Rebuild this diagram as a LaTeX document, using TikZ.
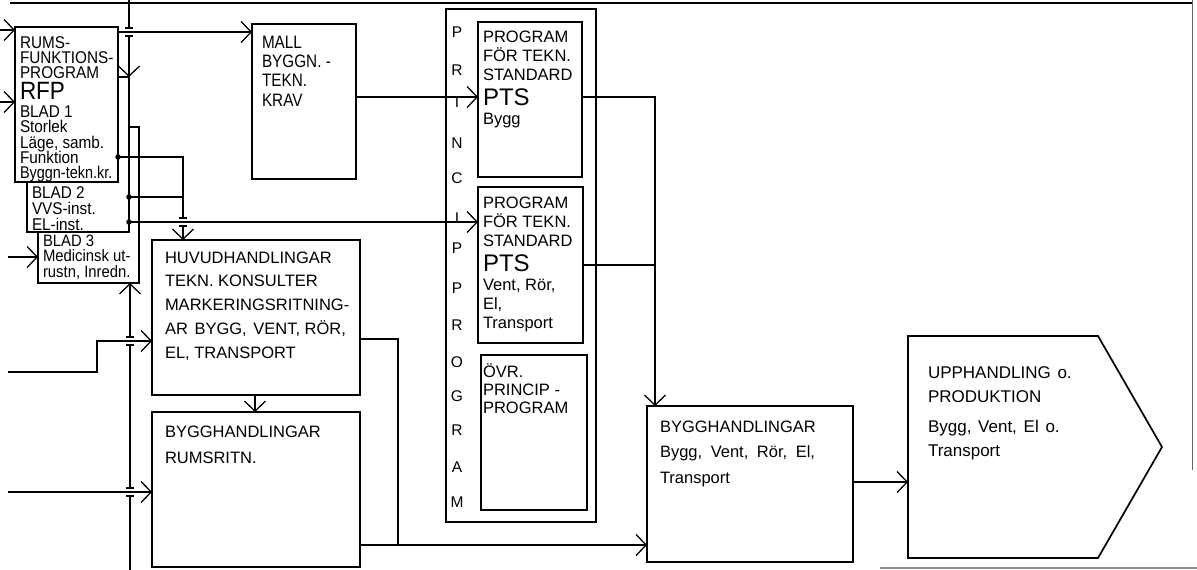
\documentclass[tikz,border=0pt]{standalone}
\usepackage{fontspec}
\setmainfont{Liberation Sans}
\newfontfamily\fA{Liberation Sans}
\newfontfamily\fN[FakeStretch=0.9]{Liberation Sans}
\newfontfamily\fM[FakeStretch=0.85]{Liberation Sans}
\usetikzlibrary{arrows.meta}
\newcommand{\fz}[1]{\fontsize{#1}{#1}\selectfont}
\newcommand{\vlines}[2]{\vtop{\baselineskip=#1\lineskiplimit=-\maxdimen\lineskip=0pt\relax #2}}
\begin{document}
\begin{tikzpicture}[x=1pt,y=-1pt,
  box/.style={draw, line width=1.7pt, fill=white, inner sep=0pt, outer sep=0pt, anchor=north west},
  frameline/.style={line width=1.7pt},
  txt/.style={inner sep=0pt, outer sep=0pt, anchor=base west},
  conn/.style={line width=1.3pt},
  arr/.style={conn,-{Straight Barb[length=10pt,width=21pt]}},
  dot/.style={circle, fill=black, inner sep=0pt, minimum size=5.5pt}]
\useasboundingbox[fill=white] (0,0) rectangle (1197,570);

% scan frame
\draw[line width=1.3pt] (10,3) -- (1192,3);
\draw[line width=1pt, black!60] (1192,0) -- (1192,470);
\draw[line width=1.2pt, black!45] (880,568) -- (1197,568);

% RFP sheets
\node[box, minimum width=101pt, minimum height=156pt] (p3) at (38,127) {};
\node[box, minimum width=102pt, minimum height=155pt] (p2) at (27,77) {};
\node[box, minimum width=103pt, minimum height=155pt] (p1) at (15,27) {};

% boxes
\node[box, minimum width=104pt, minimum height=155pt] (mall) at (252,24) {};
\node[box, minimum width=150pt, minimum height=513pt] (frame) at (446,9) {};
\node[box, minimum width=104pt, minimum height=155pt] (pts1) at (478,22) {};
\node[box, minimum width=105pt, minimum height=156pt] (pts2) at (478,187) {};
\node[box, minimum width=106pt, minimum height=155pt] (ovr) at (481,355) {};
\node[box, minimum width=208pt, minimum height=155pt] (huv) at (152,240) {};
\node[box, minimum width=208pt, minimum height=155pt] (rums) at (152,412) {};
\node[box, minimum width=206pt, minimum height=156pt] (byg2) at (647,406) {};
\node[inner sep=0pt, outer sep=0pt, anchor=north west, minimum width=254pt, minimum height=222pt] (upph) at (908,336) {};
\draw[frameline] (upph.north west) -- ([xshift=-64pt]upph.north east) -- (upph.east)
  -- ([xshift=-64pt]upph.south east) -- (upph.south west) -- cycle;

% texts
\node[txt, font=\fN\fz{17}] (t1) at (20,48) {\vlines{15.2pt}{\hbox{RUMS-}\hbox{FUNKTIONS-}\hbox{PROGRAM}\kern6pt\hbox{\fz{25}RFP}\kern3pt\hbox{BLAD\ 1}\hbox{Storlek}\hbox{Läge, samb.}\hbox{Funktion}\hbox{\addfontfeature{FakeStretch=0.85}Byggn-tekn.kr.}}};
\node[txt, font=\fN\fz{17}] (t2) at (32,198) {\vlines{16pt}{\hbox{BLAD\ 2}\hbox{VVS-inst.}\hbox{EL-inst.}}};
\node[txt, font=\fN\fz{16.5}] (t3) at (43,246) {\vlines{15.5pt}{\hbox{BLAD\ 3}\hbox{Medicinsk ut-}\hbox{rustn, Inredn.}}};
\node[txt, font=\fM\fz{18}] (t4) at (262,48) {\vlines{19.5pt}{\hbox{MALL}\hbox{BYGGN. -}\hbox{TEKN.}\hbox{KRAV}}};
\node[txt, font=\fA\fz{16.5}] (t5) at (483,42) {\vlines{19pt}{\hbox{PROGRAM}\hbox{FÖR TEKN.}\hbox{STANDARD}\kern6pt\hbox{\fz{24}PTS}\hbox{Bygg}}};
\node[txt, font=\fA\fz{16.5}] (t6) at (483,208) {\vlines{19pt}{\hbox{PROGRAM}\hbox{FÖR TEKN.}\hbox{STANDARD}\kern6pt\hbox{\fz{24}PTS}\hbox{Vent, Rör,}\hbox{El,}\hbox{Transport}}};
\node[txt, font=\fA\fz{16.5}] (t7) at (483,377) {\vlines{18pt}{\hbox{ÖVR.}\hbox{PRINCIP -}\hbox{PROGRAM}}};
\node[txt, font=\fA\fz{16.5}] (t8) at (165,263) {\vlines{23.75pt}{\hbox{HUVUDHANDLINGAR}\hbox{TEKN.\ KONSULTER}\hbox{MARKERINGSRITNING-}\hbox{AR\hspace{2pt} BYGG,\hspace{2pt} VENT, RÖR,}\hbox{EL,\ TRANSPORT}}};
\node[txt, font=\fA\fz{16.5}] (t9) at (165,437) {\vlines{26pt}{\hbox{BYGGHANDLINGAR}\hbox{RUMSRITN.}}};
\node[txt, font=\fA\fz{16.5}] (t10) at (660,432) {\vlines{25.5pt}{\hbox{BYGGHANDLINGAR}\hbox{Bygg,\hspace{4pt} Vent,\hspace{4pt} Rör,\hspace{4pt} El,}\hbox{Transport}}};
\node[txt, font=\fA\fz{17}] (t11) at (928,378) {\vlines{24pt}{\hbox{UPPHANDLING\hspace{2pt} o.}\hbox{PRODUKTION}\kern6pt\hbox{Bygg,\hspace{2pt} Vent,\hspace{2pt} El\hspace{2pt} o.}\hbox{Transport}}};

\foreach \l/\yy [count=\i] in {P/37,R/75,I/107,N/148,C/183,I/223,P/253,P/293,R/330,O/367,G/401,R/435,A/472,M/507}
  \node[inner sep=0pt, anchor=base, font=\fA\fz{15.5}] (pp\i) at (457,\yy) {\l};

% coordinates
\coordinate (top1) at (129,0);
\coordinate (a0) at (118,32);
\coordinate (d1) at (118,157);
\coordinate (d2) at (129,197);
\coordinate (d3) at (129,222);
\coordinate (k1) at (183,157);
\coordinate (k2) at (183,240);
\coordinate (m1) at (356,97);
\coordinate (j1) at (655,97);
\coordinate (j2) at (655,265);
\coordinate (j3) at (398,339);
\coordinate (j4) at (398,545);
\coordinate (c1) at (255,395);
\coordinate (j5) at (853,482);
\coordinate (l1) at (0,30);
\coordinate (l2) at (0,102);
\coordinate (l3) at (8,257);
\coordinate (l4) at (8,372);
\coordinate (l4b) at (97,372);
\coordinate (l4c) at (97,341);
\coordinate (l5) at (8,492);
\coordinate (b1) at (130,570);

% main vertical, top part
\draw[conn] (top1) -- (129,28);
\draw[conn] (125,28) -- (133,28);
\draw[conn] (125,36) -- (133,36);
\draw[arr] (129,36) -- (p2.north east);
\draw[arr] (a0) -- (mall.west |- a0);

% main vertical, bottom part
\draw[conn] (b1) -- (130,496);
\draw[conn] (126,496) -- (134,496);
\draw[conn] (126,488) -- (134,488);
\draw[conn] (130,488) -- (130,345);
\draw[conn] (126,345) -- (134,345);
\draw[conn] (126,337) -- (134,337);
\draw[arr] (130,337) -- (p3.south -| b1);

% left inputs
\draw[arr] (l1) -- (p1.west |- l1);
\draw[arr] (l2) -- (p1.west |- l2);
\draw[arr] (l3) -- (p3.west |- l3);
\draw[arr] (l4) -- (l4b) -- (l4c) -- (huv.west |- l4c);
\draw[arr] (l5) -- (rums.west |- l5);

% sheet outputs
\draw[conn] (d1) -- (k1) -- (183,218);
\draw[conn] (179,218) -- (187,218);
\draw[conn] (179,226) -- (187,226);
\draw[arr] (183,226) -- (huv.north -| k2);
\draw[conn] (d2) -- (d2 -| k1);
\draw[arr] (d3) -- (pts2.west |- d3);
\node[dot] (dd1) at (d1) {};
\node[dot] (dd2) at (d2) {};
\node[dot] (dd3) at (d3) {};

% other connectors
\draw[arr] (mall.east |- m1) -- (pts1.west |- m1);
\draw[arr] (pts1.east |- j1) -- (j1) -- (byg2.north -| j1);
\draw[conn] (pts2.east |- j2) -- (j2);
\draw[conn] (huv.east |- j3) -- (j3) -- (j4);
\draw[arr] (rums.east |- j4) -- (byg2.west |- j4);
\draw[arr] (c1) -- (rums.north -| c1);
\draw[arr] (byg2.east |- j5) -- (upph.west |- j5);
\end{tikzpicture}
\end{document}
